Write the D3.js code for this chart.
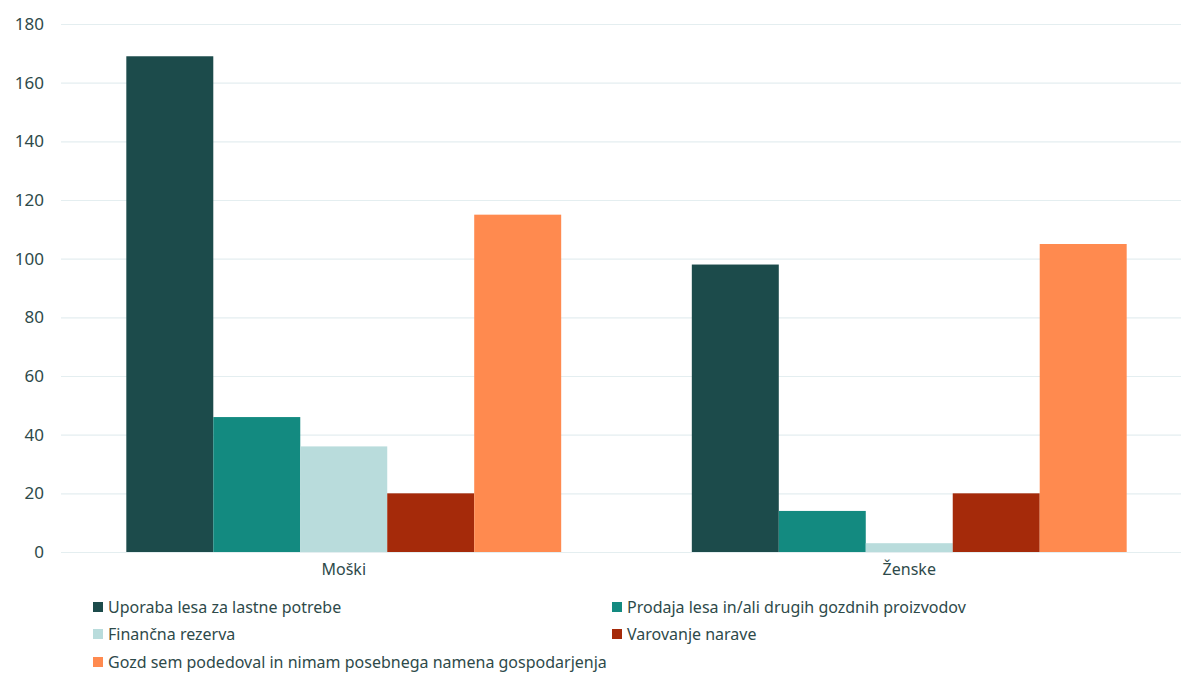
<!DOCTYPE html>
<html><head><meta charset="utf-8">
<script src="https://cdn.jsdelivr.net/npm/d3@7"></script>
<style>body{margin:0;background:#fff;} svg{display:block;font-family:"Noto Sans",sans-serif;}</style>
</head><body><svg id="c" width="1181" height="675"></svg>
<script>
const categories = ["Moški", "Ženske"];
const seriesNames = ["Uporaba lesa za lastne potrebe", "Prodaja lesa in/ali drugih gozdnih proizvodov", "Finančna rezerva", "Varovanje narave", "Gozd sem podedoval in nimam posebnega namena gospodarjenja"];
const uporaba = [169, 98];
const prodaja = [46, 14];
const rezerva = [36, 3];
const varovanje = [20, 20];
const podedoval = [115, 105];
const yTicks = [0, 20, 40, 60, 80, 100, 120, 140, 160, 180];
const colors = ["#1c4b4b", "#138a80", "#b9dcdc", "#a52a0a", "#ff8a4f"];
const series = [uporaba, prodaja, rezerva, varovanje, podedoval];

const svg = d3.select("#c");
const y = d3.scaleLinear().domain([0, 180]).range([552, 24]);
const x0 = d3.scaleBand().domain(categories).range([61, 1192]).paddingInner(0.231).paddingOuter(0.1155);
const x1 = d3.scaleBand().domain(d3.range(seriesNames.length)).range([0, x0.bandwidth()]);
const textCol = "#2e4a4a";

// grid
const gAxis = svg.append("g").attr("transform", "translate(61,0)")
  .call(d3.axisLeft(y).tickValues(yTicks).tickSize(-1120).tickPadding(17));
gAxis.attr("font-family", "Noto Sans");
gAxis.select(".domain").remove();
gAxis.selectAll(".tick line").attr("stroke", "#e4eef0").attr("stroke-width", 1.2);
gAxis.selectAll(".tick text").attr("fill", textCol).attr("font-size", 17);

// bars
categories.forEach((c, ci) => {
  series.forEach((s, si) => {
    svg.append("rect")
      .attr("x", x0(c) + x1(si))
      .attr("y", y(s[ci]))
      .attr("width", x1.bandwidth())
      .attr("height", y(0) - y(s[ci]))
      .attr("fill", colors[si]);
  });
});

// x labels
svg.append("g").attr("transform", "translate(0,552)")
  .call(d3.axisBottom(x0).tickSize(0).tickPadding(12))
  .attr("font-family", "Noto Sans")
  .call(g => g.select(".domain").remove())
  .selectAll("text").attr("fill", textCol).attr("font-size", 16);

// legend
const legPos = [[93, 607], [612, 607], [93, 634], [612, 634], [93, 662]];
seriesNames.forEach((n, i) => {
  const [lx, ly] = legPos[i];
  svg.append("rect").attr("x", lx).attr("y", ly - 5).attr("width", 10).attr("height", 10).attr("fill", colors[i]);
  svg.append("text").attr("x", lx + 15).attr("y", ly).attr("dy", "0.35em")
    .attr("fill", textCol).attr("font-size", 16).text(n);
});
</script></body></html>
